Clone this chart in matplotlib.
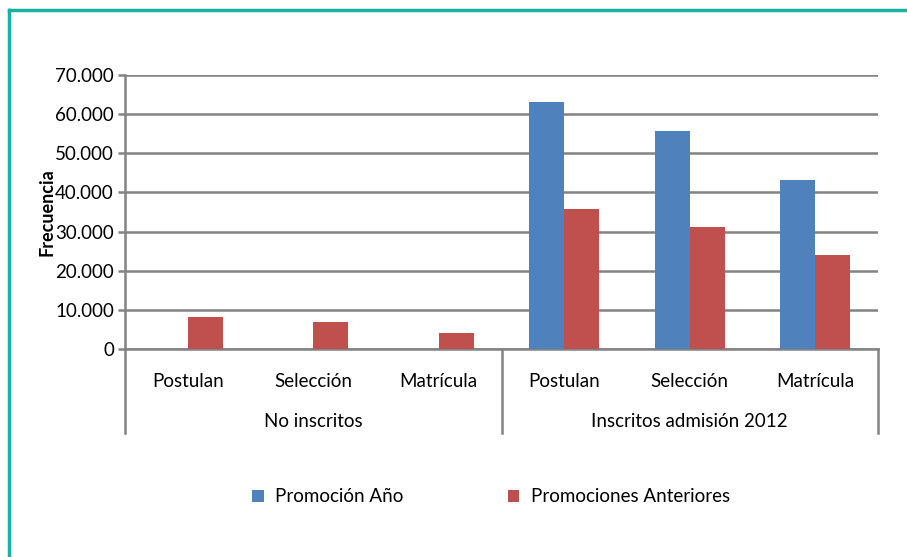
import numpy as np
import matplotlib
matplotlib.use("Agg")
import matplotlib.pyplot as plt
import matplotlib.transforms as mtransforms
from matplotlib.ticker import FuncFormatter

# ---- data ----
groups      = ["No inscritos", "Inscritos admisión 2012"]
categories  = ["Postulan", "Selección", "Matrícula", "Postulan", "Selección", "Matrícula"]
series      = ["Promoción Año", "Promociones Anteriores"]
promo_anio  = [0, 0, 0, 63000, 55800, 43200]
promo_ant   = [8100, 6800, 4200, 35800, 31200, 23900]

BLUE = "#4F81BD"
RED  = "#C0504D"
GRAY = "#838383"
TEAL = "#17B0A2"

plt.rcParams["font.family"] = ["Lato", "DejaVu Sans"]
FS = 13.5

fig = plt.figure(figsize=(9.07, 5.57), dpi=100)
ax = fig.add_axes([125/907, 1-349/557, (878-125)/907, (349-75)/557])

x = np.arange(len(categories))
w = 0.28
ax.bar(x - w/2, promo_anio, w, color=BLUE, label=series[0], zorder=3)
ax.bar(x + w/2, promo_ant, w, color=RED, label=series[1], zorder=3)

ax.set_xlim(-0.5, len(categories) - 0.5)
ax.set_ylim(0, 70000)
ax.set_yticks(np.arange(0, 70001, 10000))
ax.yaxis.set_major_formatter(FuncFormatter(lambda v, p: f"{int(v):,}".replace(",", ".")))
ax.tick_params(axis="y", length=5, width=1.8, color=GRAY, labelsize=FS, pad=3)
ax.tick_params(axis="x", length=0, labelbottom=False)
ax.grid(axis="y", color=GRAY, linewidth=1.8, zorder=0)
for s in ["top", "right"]:
    ax.spines[s].set_visible(False)
for s in ["left", "bottom"]:
    ax.spines[s].set_color(GRAY)
    ax.spines[s].set_linewidth(1.8)

ax.set_ylabel("Frecuencia", fontsize=13, fontweight="bold", labelpad=0)

# category and group labels below the axis
trans = mtransforms.blended_transform_factory(ax.transData, ax.transAxes)
for i, c in enumerate(categories):
    ax.text(i, -0.117, c, transform=trans, ha="center", va="center", fontsize=FS)
n = len(categories) // len(groups)
for g, name in enumerate(groups):
    ax.text(g*n + (n-1)/2, -0.266, name, transform=trans, ha="center", va="center", fontsize=FS)
for xs in [-0.5, 2.5, 5.5]:
    ax.plot([xs, xs], [0, -0.307], transform=trans, color=GRAY, lw=1.8, clip_on=False)

fig.legend(loc="center", bbox_to_anchor=(491/907, 1-497/557), ncol=2, frameon=False,
           fontsize=FS, handlelength=0.6, handleheight=0.6, handletextpad=0.6,
           columnspacing=5.6)

# teal frame (top and left edges)
fig.add_artist(plt.Line2D([8.5/907, 8.5/907], [0, 1-9.5/557], transform=fig.transFigure,
                          color=TEAL, lw=2.5))
fig.add_artist(plt.Line2D([8.5/907, 1], [1-9.5/557, 1-9.5/557], transform=fig.transFigure,
                          color=TEAL, lw=2.5, solid_capstyle="projecting"))

fig.savefig("out.png", dpi=100)
